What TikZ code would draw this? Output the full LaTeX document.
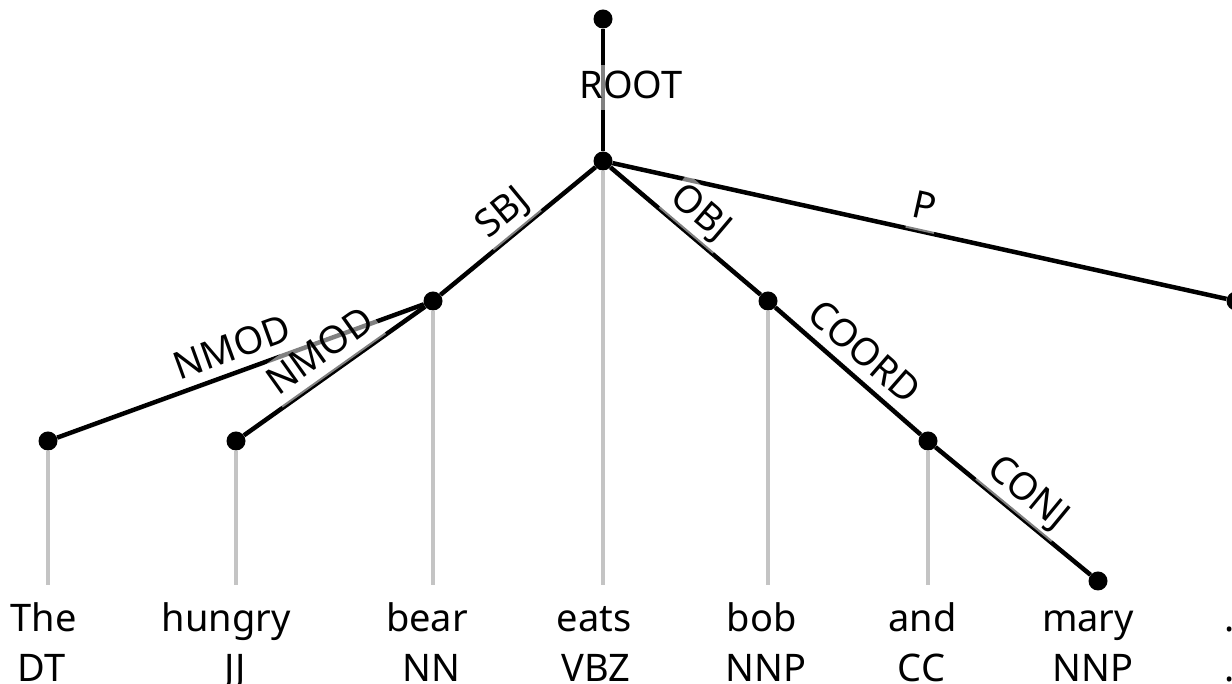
\documentclass[tikz,border=0pt]{standalone}
\usepackage{fontspec}
\setmainfont{Noto Sans}
\definecolor{stemgrey}{RGB}{196,196,196}
\begin{document}
\begin{tikzpicture}[x=1pt,y=1pt,
  txt/.style={font=\fontsize{38}{46}\selectfont, inner sep=0pt, anchor=base},
  edge/.style={line width=4.5pt, black},
  stem/.style={line width=4.5pt, stemgrey},
  dot/.style={circle, fill=black, inner sep=0pt, minimum size=19pt},
  lbl/.style={font=\fontsize{38}{46}\selectfont, fill=white, fill opacity=0.5, text opacity=1,
              text height=30pt, text depth=9pt, inner xsep=3pt, inner ysep=3pt},
  slbl/.style={lbl, midway, sloped, anchor=south},
]
\useasboundingbox (0,0) rectangle (1232,684);
\coordinate (stemend) at (0,99);

% dots
\node[dot] (top)  at (603,665) {};
\node[dot] (eats) at (603,523) {};
\node[dot] (bear) at (433,383) {};
\node[dot] (the)  at (48,243) {};
\node[dot] (hungry) at (236,243) {};
\node[dot] (bob)  at (768,383) {};
\node[dot] (and)  at (928,243) {};
\node[dot] (mary) at (1098,103) {};
\node[dot] (punct) at (1236,383) {};

% labels drawn under their own edge
\path (bear) -- (the) node[slbl] (lnmod1) {NMOD};
\path (bob) -- (and) node[slbl] (lcoord) {COORD};

% grey stems
\foreach \n in {the,hungry,bear,eats,bob,and,punct}
  \draw[stem] (\n) -- (\n |- stemend);

% edges
\draw[edge] (top) -- (eats);
\draw[edge] (eats) -- (bear);
\draw[edge] (eats) -- (bob);
\draw[edge] (eats) -- (punct);
\draw[edge] (bear) -- (the);
\draw[edge] (bear) -- (hungry);
\draw[edge] (bob) -- (and);
\draw[edge] (and) -- (mary);

% labels over edges
\node[lbl, anchor=base] (lroot) at (631,585.5) {ROOT};
\path (eats) -- (bear) node[slbl] (lsbj) {SBJ};
\path (eats) -- (bob) node[slbl] (lobj) {OBJ};
\path (eats) -- (punct) node[slbl] (lp) {P};
\path (bear) -- (hungry) node[slbl] (lnmod2) {NMOD};
\path (and) -- (mary) node[slbl] (lconj) {CONJ};

% words and tags
\node[txt] (w1) at (43.5,52) {The};    \node[txt] (t1) at (41.5,2) {DT};
\node[txt] (w2) at (226,52) {hungry};  \node[txt] (t2) at (235,2) {JJ};
\node[txt] (w3) at (427,52) {bear};    \node[txt] (t3) at (431,2) {NN};
\node[txt] (w4) at (594,52) {eats};    \node[txt] (t4) at (596,2) {VBZ};
\node[txt] (w5) at (761.5,52) {bob};   \node[txt] (t5) at (766,2) {NNP};
\node[txt] (w6) at (922.5,52) {and};   \node[txt] (t6) at (921.5,2) {CC};
\node[txt] (w7) at (1088,52) {mary};   \node[txt] (t7) at (1093,2) {NNP};
\node[txt] (w8) at (1230,52) {.};      \node[txt] (t8) at (1230,2) {.};
\end{tikzpicture}
\end{document}
